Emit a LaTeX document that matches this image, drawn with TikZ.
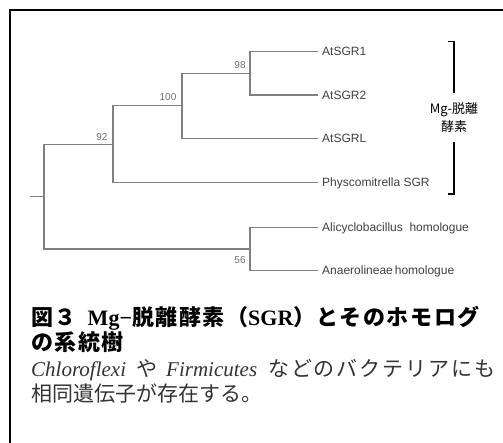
\documentclass[tikz,border=0pt]{standalone}
\usepackage{fontspec}
\setmainfont{Liberation Serif}
\setsansfont{Liberation Sans}
\newfontfamily\cjk{Noto Sans CJK JP}
\newfontfamily\cjkls{Noto Sans CJK JP}[LetterSpace=7]
\newfontfamily\cjkwide{Noto Sans CJK JP}[LetterSpace=9]
\definecolor{branchc}{HTML}{808080}
\definecolor{leafc}{HTML}{404040}
\definecolor{bootc}{HTML}{6E6E6E}
\definecolor{capc}{HTML}{333333}
\begin{document}
\begin{tikzpicture}[x=1pt,y=-1pt,
  branch/.style={draw=branchc,line width=1.3pt},
  leaf/.style={anchor=west,font=\sffamily\fontsize{12}{14}\selectfont,text=leafc,inner xsep=4pt,inner ysep=0pt,text height=8.6pt,text depth=0pt},
  boot/.style={font=\sffamily\fontsize{10}{12}\selectfont,text=bootc,inner sep=0pt},
  brk/.style={draw=black,line width=1.5pt},
  capline/.style={anchor=base west,inner sep=0pt}]
\useasboundingbox (0,0) rectangle (503,443);
\fill[white] (0,0) rectangle (503,443);
% frame
\coordinate (f1) at (9.5,443);
\coordinate (f2) at (9.5,10);
\coordinate (f3) at (503,10);
\draw[line width=2pt] (f1) -- (f2) -- (f3);
% leaves
\node[leaf] (l1) at (318,51.7) {AtSGR1};
\node[leaf] (l2) at (318,95) {AtSGR2};
\node[leaf] (l3) at (318,138.3) {AtSGRL};
\node[leaf] (l4) at (318,182.7) {Physcomitrella\ SGR};
\node[leaf] (l5) at (318,227.3) {Alicyclobacillus\ \ homologue};
\node[leaf] (l6) at (318,270.7) {Anaerolineae\,homologue};
% internal nodes
\coordinate (n98) at (250,73.35);
\coordinate (n100) at (182,105.8);
\coordinate (n92) at (113,144.25);
\coordinate (root) at (44,196.6);
\coordinate (n56) at (250,249);
\coordinate (stub) at (30,196.6);
\draw[branch] (l1.west) -| (n98) |- (l2.west);
\draw[branch] (n98) -| (n100) |- (l3.west);
\draw[branch] (n100) -| (n92) |- (l4.west);
\draw[branch] (n92) -| (root) |- (n56);
\draw[branch] (l5.west) -| (n56) |- (l6.west);
\draw[branch] (stub) -- (root);
% bootstrap values
\node[boot] (b98) at (240,65) {98};
\node[boot] (b100) at (168,97) {100};
\node[boot] (b92) at (102,137) {92};
\node[boot] (b56) at (240,260) {56};
% bracket
\coordinate (bt) at (448,41.7);
\coordinate (bt1) at (454,92.7);
\coordinate (bb1) at (454,141.7);
\coordinate (bb) at (448,194);
\draw[brk] (bt) -| (bt1);
\draw[brk] (bb1) |- (bb);
\node[align=center,inner sep=0pt,font=\cjk\fontsize{13}{18}\selectfont] (mg) at (454,118) {Mg-脱離\\酵素};
% caption
\node[capline] (c1) at (31,326) {\cjkls\bfseries\fontsize{22}{26}\selectfont 図３\hspace{0.5em}{\rmfamily\bfseries Mg−}脱離酵素（{\rmfamily\bfseries SGR}）とそのホモログ};
\node[capline] (c2) at (31,351) {\cjkls\bfseries\fontsize{22}{26}\selectfont の系統樹};
\node[capline,text=capc] (c3) at (31,376) {\cjk\fontsize{21}{25}\selectfont\makebox[105pt][l]{\rmfamily\itshape\fontsize{21}{25}\selectfont Chloroflexi}\makebox[30pt][l]{や}\makebox[102pt][l]{\rmfamily\itshape\fontsize{21}{25}\selectfont Firmicutes}{\cjkwide\fontsize{21}{25}\selectfont などのバクテリアにも}};
\node[capline,text=capc] (c4) at (31,401) {\cjk\fontsize{21}{25}\selectfont 相同遺伝子が存在する。};
\end{tikzpicture}
\end{document}
